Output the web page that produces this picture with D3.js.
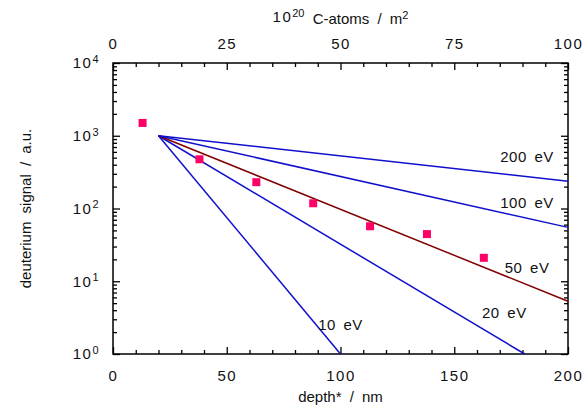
<!DOCTYPE html>
<html>
<head>
<meta charset="utf-8">
<script src="https://cdn.jsdelivr.net/npm/d3@7"></script>
<style>
  body { margin: 0; background: #fff; }
  text { font-family: "Liberation Sans", Arial, sans-serif; fill: #111; }
  .axis path, .axis line { stroke: #000; }
</style>
</head>
<body>
<div id="chart"></div>
<script>
// data
var depthTicks = [0, 50, 100, 150, 200];
var atomTicks = [0, 25, 50, 75, 100];
var decades = [0, 1, 2, 3, 4];

var lineNames = ["10 eV", "20 eV", "50 eV", "100 eV", "200 eV"];
var lineStart = [20, 1000];
var lineEndX = [100, 181, 200, 200, 200];
var lineEndY = [1, 1, 5.3, 55, 237];

var pointDepth = [13, 38, 63, 88, 113, 138, 163];
var pointSignal = [1500, 475, 230, 118, 57, 44.5, 21];

var margin = {top: 63, right: 20, bottom: 54, left: 113},
    width = 588 - margin.left - margin.right,
    height = 408 - margin.top - margin.bottom;

var svg = d3.select("#chart")
    .append("svg")
    .attr("width", 588)
    .attr("height", 408)
    .append("g")
    .attr("transform", "translate(" + margin.left + "," + margin.top + ")");

var x = d3.scaleLinear().domain([0, 200]).range([0, width]);
var xTop = d3.scaleLinear().domain([0, 100]).range([0, width]);
var y = d3.scaleLog().domain([1, 10000]).range([height, 0]);

var minorX = d3.range(0, 201, 10).filter(function(d) { return d % 50 != 0; });
var minorY = [];
decades.slice(0, 4).forEach(function(e) {
    for (var k = 2; k < 10; k++) minorY.push(k * Math.pow(10, e));
});

function styleAxis(g) {
    g.attr("class", "axis");
    g.select(".domain").remove();
    g.selectAll("line").attr("stroke-width", 1.3);
    g.selectAll("text").style("font-size", "15px").style("letter-spacing", "1.5px");
}

// minor ticks
svg.append("g").call(d3.axisBottom(x).tickValues(minorX).tickSize(-4).tickFormat(""))
    .attr("transform", "translate(0," + height + ")").call(styleAxis);
svg.append("g").call(d3.axisTop(x).tickValues(minorX).tickSize(-4).tickFormat(""))
    .call(styleAxis);
svg.append("g").call(d3.axisLeft(y).tickValues(minorY).tickSize(-4).tickFormat(""))
    .call(styleAxis);
svg.append("g").call(d3.axisRight(y).tickValues(minorY).tickSize(-4).tickFormat(""))
    .attr("transform", "translate(" + width + ",0)").call(styleAxis);

// major ticks
svg.append("g").call(d3.axisBottom(x).tickValues(depthTicks).tickSize(-7).tickPadding(16))
    .attr("transform", "translate(0," + height + ")").call(styleAxis);
svg.append("g").call(d3.axisTop(xTop).tickValues(atomTicks).tickSize(-7).tickPadding(14))
    .call(styleAxis);
svg.append("g").call(d3.axisRight(y).tickValues(decades.map(function(e) { return Math.pow(10, e); })).tickSize(-7).tickFormat(""))
    .attr("transform", "translate(" + width + ",0)").call(styleAxis);

var yAxis = svg.append("g")
    .call(d3.axisLeft(y).tickValues(decades.map(function(e) { return Math.pow(10, e); })).tickSize(-7).tickPadding(13))
    .call(styleAxis);
yAxis.selectAll("text").each(function(d) {
    var t = d3.select(this);
    t.text("");
    t.append("tspan").text("10");
    t.append("tspan").attr("dy", "-0.5em").style("font-size", "11px").text(Math.round(Math.log10(d)));
});

// frame
svg.append("rect")
    .attr("width", width).attr("height", height)
    .attr("fill", "none").attr("stroke", "#000").attr("stroke-width", 1.5);

// model lines
var colors = ["#1010cc", "#1010cc", "#800000", "#1010cc", "#1010cc"];
svg.append("g")
    .selectAll("line.model")
    .data(lineNames)
    .enter()
    .append("line")
    .attr("class", "model")
    .attr("x1", x(lineStart[0]))
    .attr("y1", y(lineStart[1]))
    .attr("x2", function(d, i) { return x(lineEndX[i]); })
    .attr("y2", function(d, i) { return y(lineEndY[i]); })
    .attr("stroke", function(d, i) { return colors[i]; })
    .attr("stroke-width", 1.5);

// line labels
var labelX = [100, 172, 182, 182, 182];
var labelY = [2.5, 3.66, 15.2, 119, 510];
svg.selectAll("text.lab")
    .data(lineNames)
    .enter()
    .append("text")
    .attr("class", "lab")
    .attr("x", function(d, i) { return x(labelX[i]); })
    .attr("y", function(d, i) { return y(labelY[i]); })
    .style("font-size", "15px")
    .style("letter-spacing", "0.5px")
    .attr("text-anchor", "middle")
    .attr("dy", "0.35em")
    .style("word-spacing", "3px")
    .text(function(d) { return d; });

// measured points
svg.selectAll("rect.pt")
    .data(pointDepth)
    .enter()
    .append("rect")
    .attr("class", "pt")
    .attr("x", function(d) { return x(d) - 4; })
    .attr("y", function(d, i) { return y(pointSignal[i]) - 4; })
    .attr("width", 8)
    .attr("height", 8)
    .attr("fill", "#ff0066");

// axis titles
svg.append("text")
    .attr("x", width / 2).attr("y", height + 48)
    .attr("text-anchor", "middle")
    .style("font-size", "15px")
    .style("word-spacing", "4px")
    .text("depth* / nm");

var topTitle = svg.append("text")
    .attr("x", width / 2).attr("y", -41)
    .attr("text-anchor", "middle")
    .style("font-size", "15px")
    .style("word-spacing", "4px");
topTitle.append("tspan").style("letter-spacing", "1.5px").text("10");
topTitle.append("tspan").attr("dy", "-0.5em").style("font-size", "11px").text("20");
topTitle.append("tspan").attr("dy", "0.5em").text(" C-atoms / m");
topTitle.append("tspan").attr("dy", "-0.5em").style("font-size", "11px").text("2");

svg.append("text")
    .attr("transform", "translate(" + (-82) + "," + (height / 2) + ") rotate(-90)")
    .attr("text-anchor", "middle")
    .style("font-size", "15px")
    .style("word-spacing", "4px")
    .text("deuterium signal / a.u.");
</script>
</body>
</html>
